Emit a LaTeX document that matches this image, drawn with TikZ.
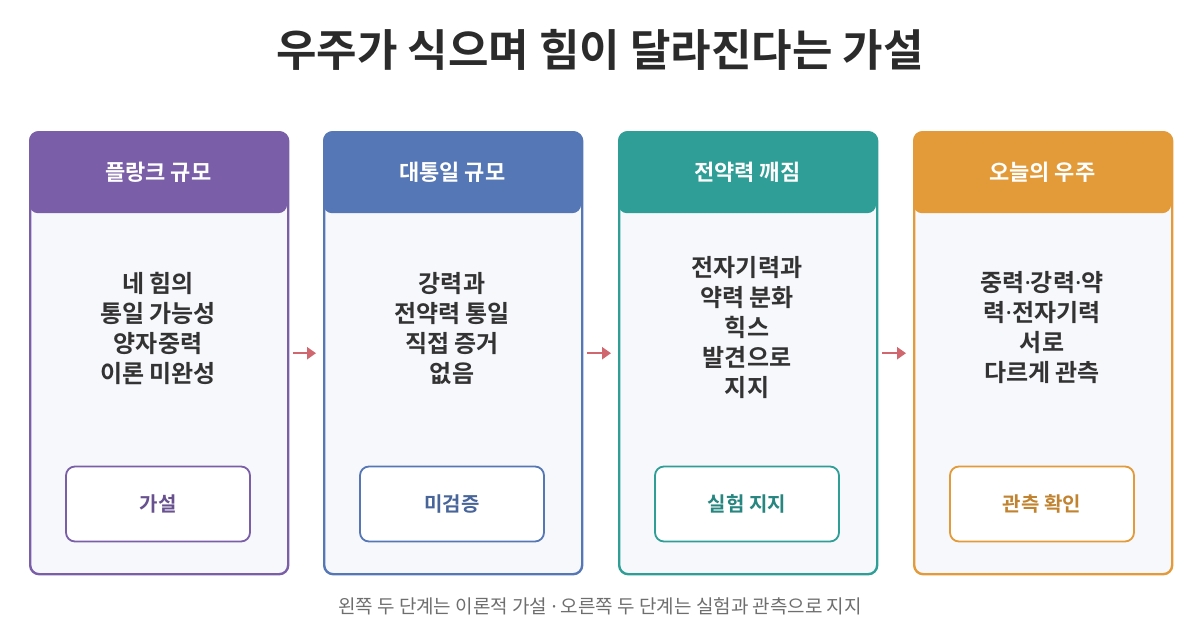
\documentclass[tikz,border=0pt]{standalone}
\usepackage{fontspec}
\setmainfont{Noto Sans CJK KR}
\newfontfamily\krb{Noto Sans CJK KR Bold}
\newfontfamily\latd{Noto Sans}
\newcommand\mdot{{\latd\bfseries ·}}
\newcommand\mdotl{{\latd ·}}
\usetikzlibrary{arrows.meta}
\definecolor{cpurple}{HTML}{7A5FA8}
\definecolor{cblue}{HTML}{5577B5}
\definecolor{cteal}{HTML}{2E9E96}
\definecolor{corange}{HTML}{E39A38}
\definecolor{cardfill}{HTML}{F7F8FC}
\definecolor{titlec}{HTML}{2B2B2B}
\definecolor{bodyc}{HTML}{333333}
\definecolor{footc}{HTML}{6E6E6E}
\definecolor{arrowc}{HTML}{D0676E}
\tikzset{
  cardbox/.style={draw=#1, line width=2.4pt, fill=cardfill, rounded corners=9pt,
    minimum width=258pt, minimum height=442pt, inner sep=0pt, anchor=north west},
  headbox/.style={fill=#1, rounded corners=9pt, minimum width=258pt, minimum height=82pt,
    inner sep=0pt, anchor=north west, text=white, font=\krb\fontsize{22}{26}\selectfont},
  bodytext/.style={align=center, text=bodyc, font=\krb\fontsize{24}{30}\selectfont},
  tagbox/.style={draw=#1, line width=1.8pt, fill=white, rounded corners=9pt,
    minimum width=184pt, minimum height=75pt, inner sep=0pt, text=#1!85!black,
    font=\krb\fontsize{20}{24}\selectfont},
  flowarrow/.style={draw=arrowc, line width=2.4pt, -{Triangle[length=9pt,width=12pt]},
    shorten <=4pt, shorten >=7pt}
}
\begin{document}
\begin{tikzpicture}[x=1pt,y=-1pt]
\useasboundingbox (0,0) rectangle (1200,630);
\node[text=titlec, font=\krb\fontsize{44}{50}\selectfont] (title) at (600,50) {우주가 식으며 힘이 달라진다는 가설};
% cards
\node[cardbox=cpurple] (c1) at (29,131) {};
\node[cardbox=cblue] (c2) at (323,131) {};
\node[cardbox=cteal] (c3) at (618,131) {};
\node[cardbox=corange] (c4) at (913,131) {};
% headers
\node[headbox=cpurple] (h1) at (29,131) {플랑크 규모};
\node[headbox=cblue] (h2) at (323,131) {대통일 규모};
\node[headbox=cteal] (h3) at (618,131) {전약력 깨짐};
\node[headbox=corange] (h4) at (913,131) {오늘의 우주};
% body texts
\node[bodytext] (b1) at (158,328) {네 힘의\\통일 가능성\\양자중력\\이론 미완성};
\node[bodytext] (b2) at (452,328) {강력과\\전약력 통일\\직접 증거\\없음};
\node[bodytext] (b3) at (747,328) {전자기력과\\약력 분화\\힉스\\발견으로\\지지};
\node[bodytext] (b4) at (1042,328) {중력\mdot 강력\mdot 약\\력\mdot 전자기력\\서로\\다르게 관측};
% tags
\node[tagbox=cpurple] (t1) at (158,504) {가설};
\node[tagbox=cblue] (t2) at (452,504) {미검증};
\node[tagbox=cteal] (t3) at (747,504) {실험 지지};
\node[tagbox=corange] (t4) at (1042,504) {관측 확인};
% arrows
\draw[flowarrow] (c1.east) -- (c2.west);
\draw[flowarrow] (c2.east) -- (c3.west);
\draw[flowarrow] (c3.east) -- (c4.west);
% footer
\node[text=footc, font=\fontsize{19}{22}\selectfont] (foot) at (600,606) {왼쪽 두 단계는 이론적 가설 \mdotl{} 오른쪽 두 단계는 실험과 관측으로 지지};
\end{tikzpicture}
\end{document}
